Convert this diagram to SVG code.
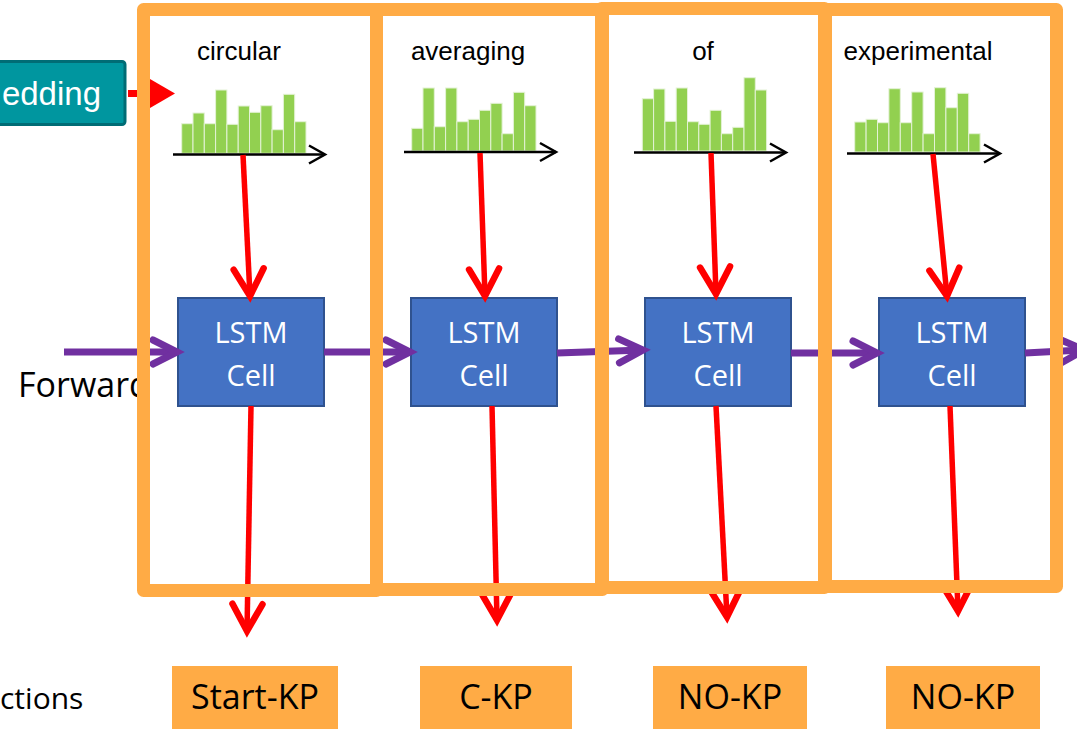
<svg xmlns="http://www.w3.org/2000/svg" width="1077" height="729" viewBox="0 0 1077 729">
<style>
.bar{fill:#92D050;stroke:#E4F2D6;stroke-width:1}
.axis{stroke:#000;stroke-width:2.5;fill:none}
.word{font-family:"Liberation Sans",Arial,sans-serif;font-size:26px;fill:#000;text-anchor:middle}
.cell{fill:#4472C4;stroke:#2F528F;stroke-width:2}
.celltxt{font-family:"Open Sans","Noto Sans",sans-serif;font-size:29px;fill:#fff;text-anchor:middle}
.red{stroke:#FF0000;stroke-width:5.5;fill:none;stroke-linecap:butt}
.purple{stroke:#7030A0;stroke-width:7;fill:none}
.frame{fill:none;stroke:#FFAB45;stroke-width:13;stroke-linejoin:round}
.out{fill:#FFAB45}
.outtxt{font-family:"Open Sans","Noto Sans",sans-serif;font-size:34px;fill:#000;text-anchor:middle}
.lbl{font-family:"Open Sans","Noto Sans",sans-serif;fill:#000}
</style>
<defs>
<marker id="axhead" markerUnits="userSpaceOnUse" orient="auto" overflow="visible" refX="0" refY="0" markerWidth="1" markerHeight="1">
<path d="M-16,-9 L0,0 L-16,9" fill="none" stroke="#000" stroke-width="2.5" stroke-linejoin="miter"/>
</marker>
<marker id="redhead" markerUnits="userSpaceOnUse" orient="auto" overflow="visible" refX="0" refY="0" markerWidth="1" markerHeight="1">
<path d="M-27,-15 L0,0 L-27,15" fill="none" stroke="#FF0000" stroke-width="6.5" stroke-linecap="round" stroke-linejoin="miter"/>
</marker>
<marker id="purplehead" markerUnits="userSpaceOnUse" orient="auto" overflow="visible" refX="0" refY="0" markerWidth="1" markerHeight="1">
<path d="M-24,-12 L0,0 L-24,12" fill="none" stroke="#7030A0" stroke-width="7" stroke-linecap="round" stroke-linejoin="miter"/>
</marker>
</defs>
<rect width="1077" height="729" fill="#fff"/>

<g id="chart1">
<rect class="bar" x="181.7" y="123.7" width="11.3" height="29.6"/>
<rect class="bar" x="193" y="113" width="11.3" height="40.3"/>
<rect class="bar" x="204.3" y="123.7" width="11.3" height="29.6"/>
<rect class="bar" x="215.6" y="90" width="11.3" height="63.3"/>
<rect class="bar" x="226.9" y="124.3" width="11.3" height="29"/>
<rect class="bar" x="238.2" y="106" width="11.3" height="47.3"/>
<rect class="bar" x="249.5" y="112.3" width="11.3" height="41"/>
<rect class="bar" x="260.8" y="105.7" width="11.3" height="47.6"/>
<rect class="bar" x="272.1" y="129.7" width="11.3" height="23.6"/>
<rect class="bar" x="283.4" y="94.3" width="11.3" height="59"/>
<rect class="bar" x="294.7" y="121.7" width="11.3" height="31.6"/>
<line class="axis" x1="173" y1="154.5" x2="325" y2="154.5" marker-end="url(#axhead)"/>
<text class="word" x="239" y="60">circular</text>
</g>

<g id="chart2">
<rect class="bar" x="411.7" y="128.3" width="11.3" height="22.7"/>
<rect class="bar" x="423" y="88" width="11.3" height="63"/>
<rect class="bar" x="434.3" y="126.7" width="11.3" height="24.3"/>
<rect class="bar" x="445.6" y="88" width="11.3" height="63"/>
<rect class="bar" x="456.9" y="121.7" width="11.3" height="29.3"/>
<rect class="bar" x="468.2" y="119.3" width="11.3" height="31.7"/>
<rect class="bar" x="479.5" y="110.3" width="11.3" height="40.7"/>
<rect class="bar" x="490.8" y="103.3" width="11.3" height="47.7"/>
<rect class="bar" x="502.1" y="133.7" width="11.3" height="17.3"/>
<rect class="bar" x="513.4" y="92.3" width="11.3" height="58.7"/>
<rect class="bar" x="524.7" y="105.7" width="11.3" height="45.3"/>
<line class="axis" x1="404" y1="152" x2="556" y2="152" marker-end="url(#axhead)"/>
<text class="word" x="468" y="60">averaging</text>
</g>

<g id="chart3">
<rect class="bar" x="642.3" y="98.7" width="11.3" height="52.3"/>
<rect class="bar" x="653.6" y="89" width="11.3" height="62"/>
<rect class="bar" x="664.9" y="121.3" width="11.3" height="29.7"/>
<rect class="bar" x="676.2" y="88" width="11.3" height="63"/>
<rect class="bar" x="687.5" y="121.7" width="11.3" height="29.3"/>
<rect class="bar" x="698.8" y="124.3" width="11.3" height="26.7"/>
<rect class="bar" x="710.1" y="110.3" width="11.3" height="40.7"/>
<rect class="bar" x="721.4" y="133.7" width="11.3" height="17.3"/>
<rect class="bar" x="732.7" y="127.3" width="11.3" height="23.7"/>
<rect class="bar" x="744" y="77.7" width="11.3" height="73.3"/>
<rect class="bar" x="755.3" y="90" width="11.3" height="61"/>
<line class="axis" x1="634" y1="152.5" x2="786" y2="152.5" marker-end="url(#axhead)"/>
<text class="word" x="703" y="60">of</text>
</g>

<g id="chart4">
<rect class="bar" x="854.7" y="122" width="11.4" height="30"/>
<rect class="bar" x="866.1" y="119.3" width="11.4" height="32.7"/>
<rect class="bar" x="877.5" y="122.7" width="11.4" height="29.3"/>
<rect class="bar" x="888.9" y="88.7" width="11.4" height="63.3"/>
<rect class="bar" x="900.3" y="122.7" width="11.4" height="29.3"/>
<rect class="bar" x="911.7" y="92" width="11.4" height="60"/>
<rect class="bar" x="923.1" y="133.7" width="11.4" height="18.3"/>
<rect class="bar" x="934.5" y="87.7" width="11.4" height="64.3"/>
<rect class="bar" x="945.9" y="107.7" width="11.4" height="44.3"/>
<rect class="bar" x="957.3" y="93.3" width="11.4" height="58.7"/>
<rect class="bar" x="968.7" y="133.7" width="11.4" height="18.3"/>
<line class="axis" x1="847" y1="153.5" x2="1000" y2="153.5" marker-end="url(#axhead)"/>
<text class="word" x="918" y="60">experimental</text>
</g>

<g id="lstm1"><rect class="cell" x="178" y="298" width="146" height="108"/><text class="celltxt" x="251" y="343">LSTM</text><text class="celltxt" x="251" y="386">Cell</text></g>
<g id="lstm2"><rect class="cell" x="411" y="298" width="146" height="108"/><text class="celltxt" x="484" y="343">LSTM</text><text class="celltxt" x="484" y="386">Cell</text></g>
<g id="lstm3"><rect class="cell" x="645" y="298" width="146" height="108"/><text class="celltxt" x="718" y="343">LSTM</text><text class="celltxt" x="718" y="386">Cell</text></g>
<g id="lstm4"><rect class="cell" x="879" y="298" width="146" height="108"/><text class="celltxt" x="952" y="343">LSTM</text><text class="celltxt" x="952" y="386">Cell</text></g>

<g id="embedding">
<rect x="-10" y="61.5" width="135" height="63" rx="3" fill="#00969F" stroke="#006C75" stroke-width="3"/>
<text x="101" y="105" font-family="Liberation Sans, Arial, sans-serif" font-size="33" fill="#fff" text-anchor="end">edding</text>
</g>

<g id="forward-label"><text class="lbl" x="18" y="397" font-size="34">Forward</text></g>
<g id="predictions-label"><text class="lbl" x="0" y="709" font-size="30">ctions</text></g>

<g id="connectors">
<line x1="128" y1="93.5" x2="155" y2="93.5" stroke="#FF0000" stroke-width="7"/>
<polygon points="150,79 175,93.5 150,108" fill="#FF0000"/>
<line class="red" x1="243" y1="155" x2="250" y2="296" marker-end="url(#redhead)"/>
<line class="red" x1="480" y1="153" x2="485" y2="296" marker-end="url(#redhead)"/>
<line class="red" x1="711" y1="153" x2="716" y2="294" marker-end="url(#redhead)"/>
<line class="red" x1="933" y1="154" x2="947" y2="296" marker-end="url(#redhead)"/>
<line class="red" x1="251" y1="406" x2="247" y2="631" marker-end="url(#redhead)"/>
<line class="red" x1="492" y1="406" x2="497" y2="620" marker-end="url(#redhead)"/>
<line class="red" x1="716" y1="406" x2="727" y2="617" marker-end="url(#redhead)"/>
<line class="red" x1="950" y1="406" x2="958" y2="611" marker-end="url(#redhead)"/>
<line class="purple" x1="64" y1="352" x2="177" y2="352" marker-end="url(#purplehead)"/>
<line class="purple" x1="324" y1="352" x2="410" y2="352" marker-end="url(#purplehead)"/>
<line class="purple" x1="557" y1="353" x2="643" y2="350" marker-end="url(#purplehead)"/>
<line class="purple" x1="791" y1="353" x2="877" y2="353" marker-end="url(#purplehead)"/>
<line class="purple" x1="1025" y1="353" x2="1084" y2="350" marker-end="url(#purplehead)"/>
</g>

<g id="frames">
<rect class="frame" x="376.5" y="9.5" width="226" height="580"/>
<rect class="frame" x="825.5" y="9.5" width="231" height="577"/>
<rect class="frame" x="601.5" y="8.5" width="223" height="579"/>
<rect class="frame" x="143.5" y="9.5" width="233" height="581"/>
</g>

<g id="out1"><rect class="out" x="172" y="666" width="166" height="70"/><text class="outtxt" x="255" y="709">Start-KP</text></g>
<g id="out2"><rect class="out" x="420" y="666" width="152" height="70"/><text class="outtxt" x="496" y="709">C-KP</text></g>
<g id="out3"><rect class="out" x="653" y="666" width="154" height="70"/><text class="outtxt" x="730" y="709">NO-KP</text></g>
<g id="out4"><rect class="out" x="886" y="666" width="154" height="70"/><text class="outtxt" x="963" y="709">NO-KP</text></g>
</svg>
